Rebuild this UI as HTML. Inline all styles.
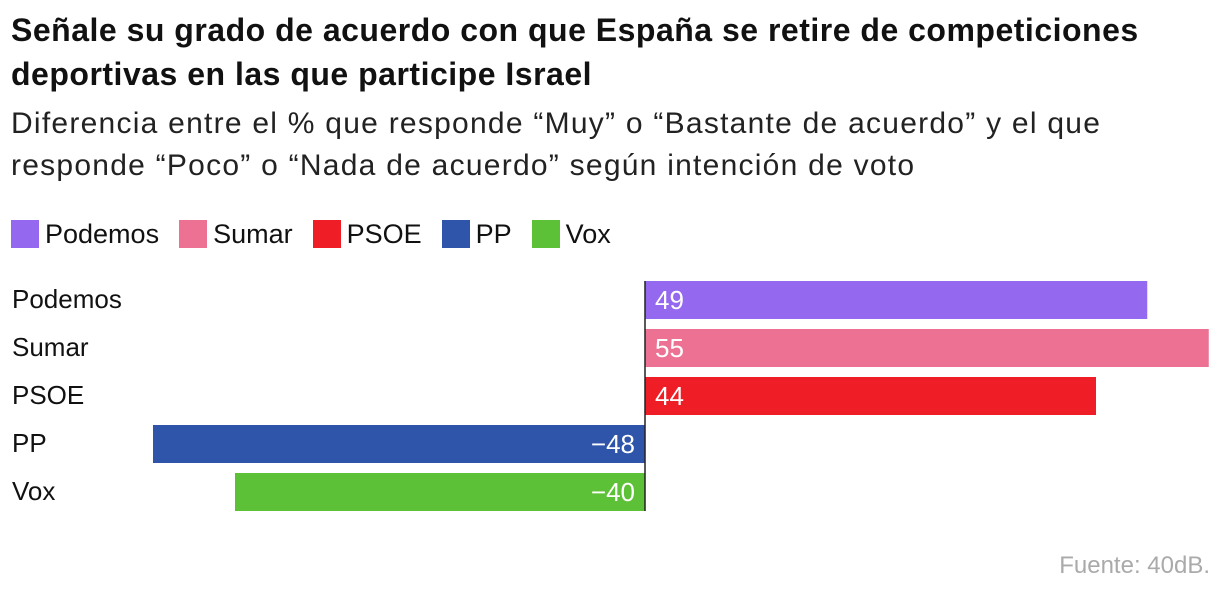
<!DOCTYPE html>
<html><head><meta charset="utf-8">
<style>
body{margin:0;background:#fff;width:1220px;height:596px;overflow:hidden;font-family:"Liberation Sans",sans-serif;color:#111}
.t{position:absolute;left:11px;font-weight:bold;font-size:32px;line-height:44px;top:8px;letter-spacing:0.5px;white-space:nowrap}
.s{position:absolute;left:11px;font-size:30px;line-height:42px;top:103px;color:#222;letter-spacing:1.25px;white-space:nowrap}
.lg{position:absolute;top:218px;left:11px;display:flex;font-size:27px;line-height:32px}
.li{display:flex;align-items:center;margin-right:20px}
.sw{width:28px;height:28px;margin-right:6px}
.src{position:absolute;right:10px;top:552px;font-size:24px;color:#aaa}
</style></head><body>
<div class="t">Señale su grado de acuerdo con que España se retire de competiciones<br>deportivas en las que participe Israel</div>
<div class="s">Diferencia entre el % que responde “Muy” o “Bastante de acuerdo” y el que<br>responde “Poco” o “Nada de acuerdo” según intención de voto</div>
<div class="lg" id="lg"></div>
<svg id="ch" width="1220" height="596" style="position:absolute;left:0;top:0"></svg>
<div class="src">Fuente: 40dB.</div>
<script>
const categories=["Podemos","Sumar","PSOE","PP","Vox"];
const values=[49,55,44,-48,-40];
const colors=["#9568f0","#ec7192","#ee1d26","#2f55aa","#5dc137"];
const NS="http://www.w3.org/2000/svg";
const zero=645,scale=10.25,top0=281,step=48,bh=38;
const x=v=>zero+v*scale;
const svg=document.getElementById('ch');
const lg=document.getElementById('lg');
categories.forEach((c,i)=>{
  const it=document.createElement('div');it.className='li';
  
  
  it.innerHTML='<div class="sw" style="background:'+colors[i]+'"></div>'+c;
  lg.appendChild(it);
  const y=top0+i*step;
  const lab=document.createElementNS(NS,'text');
  
  
  lab.setAttribute('x',12);lab.setAttribute('y',y+27);lab.setAttribute('font-size','26');lab.setAttribute('fill','#111');
  lab.textContent=c;svg.appendChild(lab);
  const v=values[i];
  const r=document.createElementNS(NS,'rect');
  
  
  r.setAttribute('x',Math.min(x(0),x(v)));r.setAttribute('y',y);
  r.setAttribute('width',Math.abs(x(v)-x(0)));r.setAttribute('height',bh);r.setAttribute('fill',colors[i]);
  svg.appendChild(r);
  const t=document.createElementNS(NS,'text');
  
  
  t.setAttribute('font-size','26');t.setAttribute('fill','#fff');t.setAttribute('y',y+28);
  if(v>=0){t.setAttribute('x',x(0)+10);}else{t.setAttribute('x',x(0)-10);t.setAttribute('text-anchor','end');}
  t.textContent=v<0?'\u2212'+Math.abs(v):String(v);
  svg.appendChild(t);
});
const ax=document.createElementNS(NS,'line');


ax.setAttribute('x1',x(0));ax.setAttribute('x2',x(0));ax.setAttribute('y1',top0);ax.setAttribute('y2',top0+4*step+bh);
ax.setAttribute('stroke','#222');ax.setAttribute('stroke-width','1.5');
svg.appendChild(ax);
</script>
</body></html>
